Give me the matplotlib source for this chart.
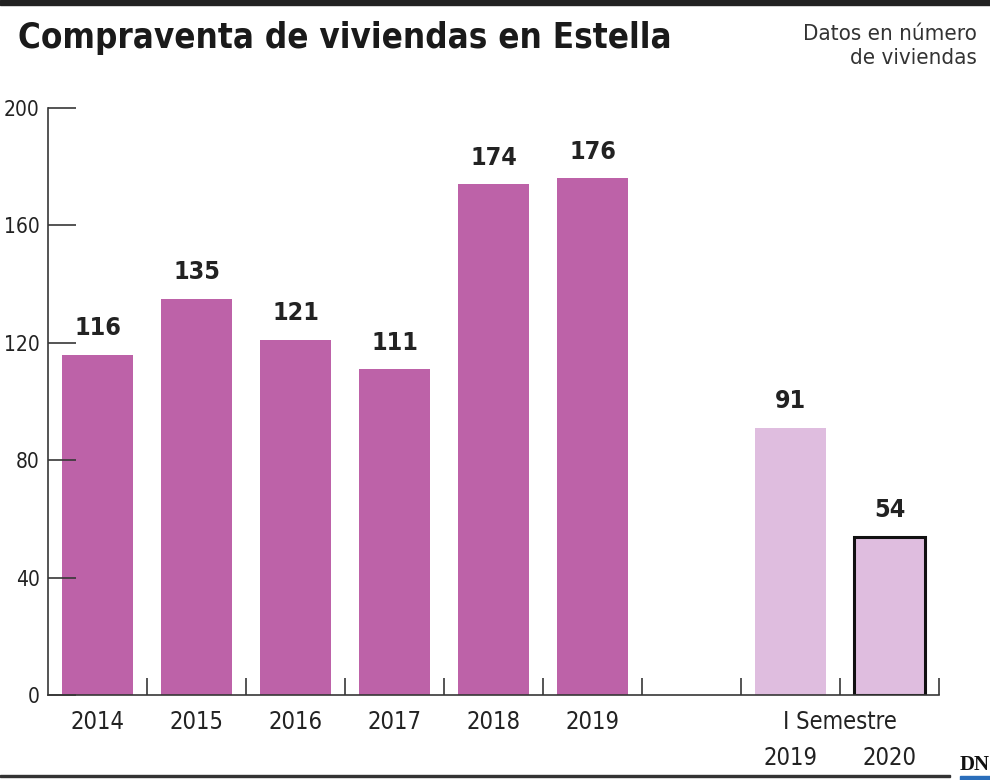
import matplotlib
matplotlib.use("Agg")
import matplotlib.pyplot as plt
from matplotlib.patches import Rectangle

years = ["2014", "2015", "2016", "2017", "2018", "2019"]
annual = [116, 135, 121, 111, 174, 176]
sem_labels = ["2019", "2020"]
sem_values = [91, 54]
yticks = [0, 40, 80, 120, 160, 200]

plt.rcParams['font.family'] = ["DejaVu Sans"]
plt.rcParams['font.stretch'] = "condensed"
dark = "#373737"
c1 = "#bd62a8"
c2 = "#dfbddf"

W, H = 990, 780
fig = plt.figure(figsize=(9.9, 7.8), dpi=100)
ax = fig.add_axes([48/W, (H-695)/H, 891/W, (695-108)/H])
ax.set_xlim(0, 9)
ax.set_ylim(0, 200)

pos_a = [i + 0.5 for i in range(len(years))]
ax.bar(pos_a, annual, width=0.72, color=c1)
pos_s = [7.5, 8.5]
ax.bar(pos_s[0], sem_values[0], width=0.72, color=c2)
ax.bar(pos_s[1], sem_values[1], width=0.72, color=c2, edgecolor="#111111", linewidth=2.2)

for p, v in zip(pos_a + pos_s, annual + sem_values):
    ax.text(p, v + 5, str(v), ha="center", va="bottom", fontsize=18, fontweight="bold", color="#222222")

for s in ["top", "right"]:
    ax.spines[s].set_visible(False)
for s in ["left", "bottom"]:
    ax.spines[s].set_color(dark)
    ax.spines[s].set_linewidth(1.2)
ax.set_yticks(yticks)
ax.set_yticklabels([str(t) for t in yticks], fontsize=15, color="#222222")
ax.tick_params(axis="y", direction="in", length=20, width=1.2, color=dark, pad=6)
ax.set_xticks(range(1, 10))
ax.set_xticklabels([])
ax.tick_params(axis="x", direction="in", length=12, width=1.2, color=dark)

for p, y in zip(pos_a, years):
    ax.text(p, -5, y, ha="center", va="top", fontsize=17, color="#222222")
ax.text(8.0, -5, "I Semestre", ha="center", va="top", fontsize=17, color="#222222")
for p, y in zip(pos_s, sem_labels):
    ax.text(p, -17.5, y, ha="center", va="top", fontsize=17, color="#222222")

fig.text(18/W, 1 - 38/H, "Compraventa de viviendas en Estella", fontsize=25, fontweight="bold",
         va="center", ha="left", color="#1a1a1a")
fig.text(977/W, 1 - 46/H, "Datos en número\nde viviendas", fontsize=16, ha="right", va="center",
         color="#333333", linespacing=1.3)
fig.add_artist(Rectangle((0, 1 - 5/H), 1, 5/H, transform=fig.transFigure, color="#222222"))
fig.add_artist(Rectangle((0, 1 - 777/H), 950/W, 2/H, transform=fig.transFigure, color="#333333"))
fig.text(960/W, 1 - 765/H, "DN", fontsize=15, fontweight="bold", family=["Liberation Serif"],
         va="center", ha="left", color="#111111")
fig.add_artist(Rectangle((960/W, 0), 30/W, 4/H, transform=fig.transFigure, color="#2a6ebb"))

fig.savefig("out.png", dpi=100, facecolor="white")
